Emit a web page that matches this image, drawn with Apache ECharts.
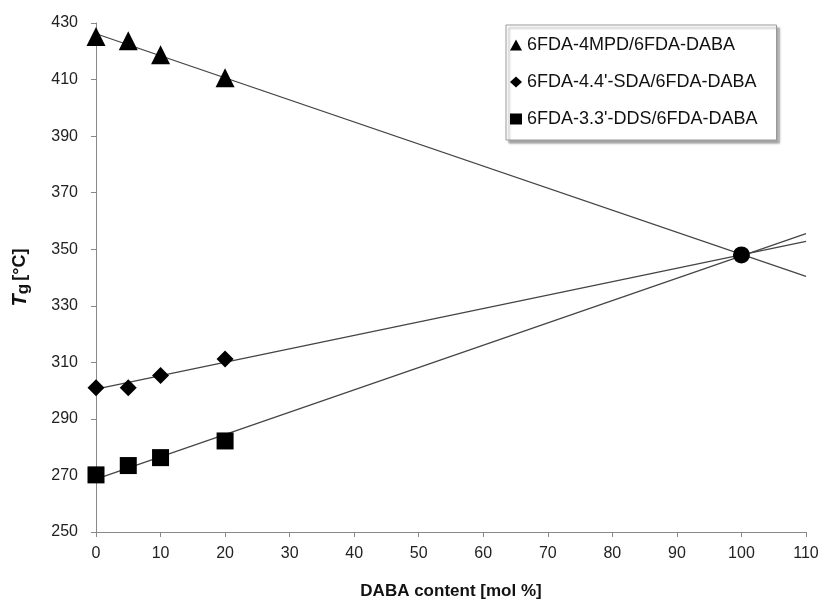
<!DOCTYPE html>
<html>
<head>
<meta charset="utf-8">
<script src="https://cdn.jsdelivr.net/npm/echarts@6/dist/echarts.min.js"></script>
<style>
  html, body { margin: 0; padding: 0; background: #fff; }
  #chart { width: 822px; height: 601px; }
</style>
</head>
<body>
<div id="chart"></div>
<script>
(function () {

    // measured points
    var daba = [0, 5, 10, 20];
    var mpd = [425.2, 423.7, 418.8, 410.6];
    var sda = [301, 301, 305.3, 311.2];
    var dds = [270.2, 273.5, 276.3, 282.2];
    var common = [[100, 348]];

    // trend line endpoints (x = 0 and x = 110)
    var trendX = [0, 110];
    var mpdTrend = [426.2, 340.4];
    var sdaTrend = [300.5, 352.8];
    var ddsTrend = [268.7, 355.5];

    var names = ['6FDA-4MPD/6FDA-DABA', '6FDA-4.4\'-SDA/6FDA-DABA', '6FDA-3.3\'-DDS/6FDA-DABA'];

    function pairs(xs, ys) {
        var out = [];
        for (var i = 0; i < xs.length; i++) {
            out.push([xs[i], ys[i]]);
        }
        return out;
    }

    function trend(ys) {
        return {
            type: 'line',
            data: pairs(trendX, ys),
            symbol: 'none',
            silent: true,
            lineStyle: { color: '#444', width: 1.2 },
            z: 1
        };
    }

    function points(name, ys, symbol, size) {
        return {
            name: name,
            type: 'scatter',
            data: pairs(daba, ys),
            symbol: symbol,
            symbolSize: size,
            itemStyle: { color: '#000', opacity: 1 },
            z: 3
        };
    }

    var myChart = echarts.init(document.getElementById('chart'));

    var option = {
        animation: false,
        textStyle: { fontFamily: 'Liberation Sans, Arial, sans-serif' },
        grid: { left: 96, right: 16, top: 23, bottom: 69, outerBoundsMode: 'none', containLabel: false },
        legend: {
            orient: 'vertical',
            left: 506,
            top: 25,
            padding: [11, 19, 12, 4],
            itemGap: 19,
            itemWidth: 12,
            itemHeight: 11,
            backgroundColor: '#fff',
            borderColor: '#999',
            borderWidth: 1,
            shadowColor: 'rgba(0,0,0,0.35)',
            shadowBlur: 2,
            shadowOffsetX: 3,
            shadowOffsetY: 3,
            itemStyle: { opacity: 1 },
            textStyle: { fontSize: 18, color: '#111' },
            data: [
                { name: names[0], icon: 'triangle' },
                { name: names[1], icon: 'diamond' },
                { name: names[2], icon: 'rect' }
            ]
        },
        xAxis: {
            type: 'value',
            min: 0,
            max: 110,
            interval: 10,
            name: 'DABA content [mol %]',
            nameLocation: 'middle',
            nameGap: 51,
            nameTextStyle: { fontSize: 17, fontWeight: 'bold', color: '#111' },
            axisLine: { lineStyle: { color: '#888' } },
            axisTick: { inside: false, length: 5, lineStyle: { color: '#888' } },
            axisLabel: { fontSize: 16, color: '#222', margin: 14 },
            splitLine: { show: false }
        },
        yAxis: {
            type: 'value',
            min: 250,
            max: 430,
            interval: 20,
            name: '{t|T}{g|g} {u|[°C]}',
            nameLocation: 'middle',
            nameGap: 64,
            nameTextStyle: {
                rich: {
                    t: { fontSize: 20, fontWeight: 'bold', fontStyle: 'italic', color: '#111' },
                    g: { fontSize: 17, fontWeight: 'bold', color: '#111', verticalAlign: 'bottom', padding: [6, 0, 0, 0] },
                    u: { fontSize: 18, fontWeight: 'bold', color: '#111' }
                }
            },
            axisLine: { show: true, lineStyle: { color: '#888' } },
            axisTick: { show: true, length: 5, lineStyle: { color: '#888' } },
            axisLabel: { fontSize: 16, color: '#222', margin: 18 },
            splitLine: { show: false }
        },
        series: [
            trend(mpdTrend),
            trend(sdaTrend),
            trend(ddsTrend),
            points(names[0], mpd, 'triangle', 19),
            points(names[1], sda, 'diamond', 17),
            points(names[2], dds, 'rect', 17),
            {
                type: 'scatter',
                data: common,
                symbol: 'circle',
                symbolSize: 17,
                itemStyle: { color: '#000', opacity: 1 },
                z: 3
            }
        ]
    };

    myChart.setOption(option);

}());
</script>
</body>
</html>
